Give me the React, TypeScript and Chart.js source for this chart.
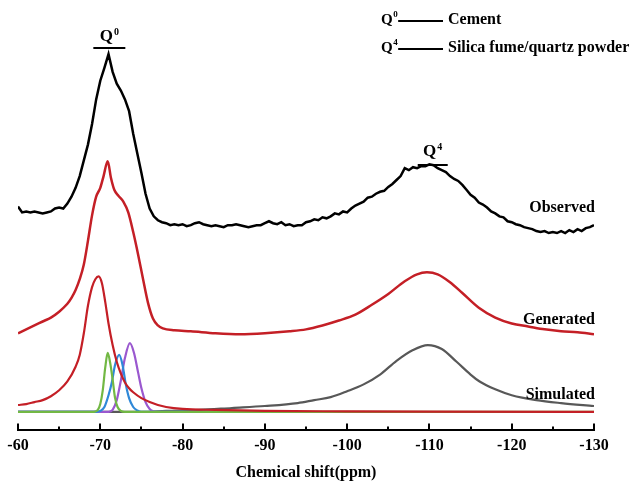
import React, { useEffect, useRef } from "react";
import { Chart, registerables } from "chart.js";

Chart.register(...registerables);

// ---------- data (intensity units = arbitrary, stacked offsets already included) ----------
const obsShift = [
  -60, -60.5, -61, -61.5, -62, -62.5, -63, -63.5, -64, -64.5, -65, -65.5, -66, -66.5, -67, -67.5,
  -68, -68.5, -69, -69.5, -70, -70.5, -71, -71.5, -72, -72.5, -73, -73.5, -74, -74.5, -75, -75.5,
  -76, -76.5, -77, -77.5, -78, -78.5, -79, -79.5, -80, -80.5, -81, -81.5, -82, -82.5, -83, -83.5,
  -84, -84.5, -85, -85.5, -86, -86.5, -87, -87.5, -88, -88.5, -89, -89.5, -90, -90.5, -91, -91.5,
  -92, -92.5, -93, -93.5, -94, -94.5, -95, -95.5, -96, -96.5, -97, -97.5, -98, -98.5, -99, -99.5,
  -100, -100.5, -101, -101.5, -102, -102.5, -103, -103.5, -104, -104.5, -105, -105.5, -106, -106.5,
  -107, -107.5, -108, -108.5, -109, -109.5, -110, -110.5, -111, -111.5, -112, -112.5, -113, -113.5,
  -114, -114.5, -115, -115.5, -116, -116.5, -117, -117.5, -118, -118.5, -119, -119.5, -120, -120.5,
  -121, -121.5, -122, -122.5, -123, -123.5, -124, -124.5, -125, -125.5, -126, -126.5, -127, -127.5,
  -128, -128.5, -129, -129.5, -130,
];
const obsIntensity = [
  209, 203, 204, 203, 204, 203, 202, 203, 204, 207, 208, 207, 212, 219, 228, 240,
  256, 272, 293, 318, 337, 350, 364, 346, 334, 327, 318, 306, 283, 263, 243, 222,
  207, 199, 195, 193, 192, 190, 191, 190, 191, 189, 190, 192, 193, 191, 190, 189,
  190, 189, 188, 190, 190, 191, 190, 189, 188, 189, 190, 190, 192, 194, 192, 191,
  193, 190, 191, 189, 190, 190, 193, 194, 196, 195, 198, 197, 199, 202, 201, 204,
  203, 207, 210, 212, 214, 218, 219, 222, 224, 225, 229, 232, 236, 240,
  248, 246, 249, 248, 250, 250, 252, 251, 248, 246, 244, 240, 237, 235,
  231, 226, 221, 218, 213, 211, 208, 204, 202, 199, 198, 194, 193, 191,
  190, 188, 187, 186, 184, 183, 184, 182, 183, 182, 184, 182, 185, 183,
  186, 184, 187, 188, 190,
];

const genShift = [
  -60, -61, -62, -63, -64, -65, -66, -66.5, -67, -67.5, -68, -68.5, -69, -69.5, -70, -70.4, -70.9,
  -71.3, -71.7, -72.2, -72.8, -73.4, -74, -74.6, -75.2, -75.8, -76.4, -77, -77.6, -79, -81, -84,
  -87, -90, -93, -95, -97, -99, -101, -103, -105, -107, -108.5, -109.7, -111, -112.5, -114, -116,
  -118, -120, -122, -124, -126, -128, -130,
];
const genIntensity = [
  80, 84, 88, 92, 96, 102, 110, 116, 124, 135, 150, 174, 200, 219, 228, 240, 255,
  238, 226, 220, 214, 203, 183, 160, 135, 111, 95, 88, 85, 83, 82, 80,
  79, 80, 82, 84, 88, 93, 99, 109, 120, 133, 140, 142, 140, 132, 121, 106,
  96, 90, 87, 84, 82, 81, 79,
];

const simRedShift = [
  -60, -61, -62, -63, -64, -65, -66, -67, -67.5, -68, -68.5, -69, -69.4, -69.8, -70.2, -70.6,
  -71, -71.5, -72, -72.5, -73, -73.5, -74, -75, -76, -77, -78, -80, -84, -90, -100, -110, -130,
];
const simRedIntensity = [
  7, 8, 10, 12, 16, 22, 31, 46, 58, 80, 108, 127, 135, 138, 131, 112,
  90, 68, 51, 39, 30, 24, 20, 14, 10, 7, 5, 3, 2, 1, 0.6, 0.3, 0,
];

const simGreenShift = [
  -60, -69, -69.4, -69.7, -70, -70.3, -70.6, -70.9, -71.2, -71.5, -71.8, -72.1, -72.5, -73, -130,
];
const simGreenIntensity = [0, 0, 0.5, 2, 8, 22, 45, 60, 50, 33, 14, 5, 1, 0, 0];

const simBlueShift = [
  -60, -69.5, -70, -70.5, -71, -71.4, -71.8, -72.3, -72.7, -73.1, -73.5, -74, -74.5, -75, -90,
];
const simBlueIntensity = [0, 0, 1, 5, 17, 30, 48, 58, 48, 28, 14, 5, 1.5, 0, 0];

const simPurpleShift = [
  -60, -71, -71.5, -72, -72.5, -73, -73.6, -74.1, -74.6, -75, -75.5, -76, -76.5, -77, -90,
];
const simPurpleIntensity = [0, 0, 2, 12, 32, 55, 70, 60, 40, 24, 10, 3, 0.5, 0, 0];

const simGrayShift = [
  -60, -75, -78, -82, -86, -90, -94, -96, -98, -100, -102, -104, -106, -108, -109.8, -111.5,
  -113.3, -115, -116.1, -118, -120, -123, -126, -130,
];
const simGrayIntensity = [
  0, 0, 1, 2, 4, 6, 9, 12, 15, 21, 28, 38, 52, 63, 68, 64,
  51, 38, 31, 23, 17, 12, 9, 6,
];

const majorTicks = [-60, -70, -80, -90, -100, -110, -120, -130];
const minorTicks = [-65, -75, -85, -95, -105, -115, -125];
const tickLabels = ["-60", "-70", "-80", "-90", "-100", "-110", "-120", "-130"];

const curveLabels = ["Observed", "Generated", "Simulated"];
const legendSup = ["0", "4"];
const legendText = ["Cement", "Silica fume/quartz powder"];

const FONT = '"Liberation Serif", "Times New Roman", serif';

const RED = "#c41f26";
const GREEN = "#72b844";
const BLUE = "#2f88d8";
const PURPLE = "#9a58cf";
const GRAY = "#585858";

function pts(xs: number[], ys: number[]) {
  return xs.map((x, i) => ({ x, y: ys[i] }));
}

const overlay = {
  id: "overlay",
  afterDraw(chart: any) {
    const ctx = chart.ctx as CanvasRenderingContext2D;
    const xs = chart.scales.x;
    const bottom = chart.chartArea.bottom;
    ctx.save();
    ctx.strokeStyle = "#000";
    ctx.lineWidth = 2;
    majorTicks.forEach((v) => {
      const px = Math.round(xs.getPixelForValue(v));
      ctx.beginPath();
      ctx.moveTo(px, bottom);
      ctx.lineTo(px, bottom - 6);
      ctx.stroke();
    });
    minorTicks.forEach((v) => {
      const px = Math.round(xs.getPixelForValue(v));
      ctx.beginPath();
      ctx.moveTo(px, bottom);
      ctx.lineTo(px, bottom - 3);
      ctx.stroke();
    });

    // curve labels
    ctx.fillStyle = "#000";
    ctx.font = `bold 16px ${FONT}`;
    ctx.textAlign = "right";
    ctx.textBaseline = "middle";
    const labelY = [208, 320, 395];
    curveLabels.forEach((t, i) => ctx.fillText(t, 595, labelY[i]));

    // Q markers with overline
    const drawQ = (cx: number, cy: number, sup: string, barY: number, barHalf: number) => {
      ctx.font = `bold 17px ${FONT}`;
      const qw = ctx.measureText("Q").width;
      ctx.font = `bold 10px ${FONT}`;
      const sw = ctx.measureText(sup).width;
      const x0 = cx - (qw + sw + 1) / 2;
      ctx.textAlign = "left";
      ctx.textBaseline = "middle";
      ctx.font = `bold 17px ${FONT}`;
      ctx.fillText("Q", x0, cy);
      ctx.font = `bold 10px ${FONT}`;
      ctx.fillText(sup, x0 + qw + 1, cy - 5);
      ctx.lineWidth = 2;
      ctx.beginPath();
      ctx.moveTo(cx - barHalf, barY);
      ctx.lineTo(cx + barHalf, barY);
      ctx.stroke();
    };
    drawQ(xs.getPixelForValue(-71.1), 37, legendSup[0], 48, 16);
    drawQ(xs.getPixelForValue(-110.4), 152, legendSup[1], 165, 15);

    // legend in top right
    const rowY = [20, 48];
    legendText.forEach((t, i) => {
      const y = rowY[i];
      ctx.textAlign = "left";
      ctx.textBaseline = "middle";
      ctx.font = `bold 15px ${FONT}`;
      ctx.fillText("Q", 381, y);
      const qw = ctx.measureText("Q").width;
      ctx.font = `bold 9px ${FONT}`;
      ctx.fillText(legendSup[i], 381 + qw + 0.5, y - 5);
      const sw = ctx.measureText(legendSup[i]).width;
      ctx.lineWidth = 2;
      ctx.beginPath();
      ctx.moveTo(381 + qw + sw + 1, y + 1);
      ctx.lineTo(443, y + 1);
      ctx.stroke();
      ctx.font = `bold 16px ${FONT}`;
      ctx.fillText(t, 448, y);
    });
    ctx.restore();
  },
};

export default function App() {
  const ref = useRef<HTMLCanvasElement | null>(null);
  useEffect(() => {
    if (!ref.current) return;
    const smooth = { cubicInterpolationMode: "monotone" as const, pointRadius: 0, fill: false };
    const chart = new Chart(ref.current, {
      type: "line",
      data: {
        datasets: [
          { label: "Observed", data: pts(obsShift, obsIntensity), borderColor: "#000", borderWidth: 2.5, pointRadius: 0, tension: 0, fill: false },
          { label: "Generated", data: pts(genShift, genIntensity), borderColor: RED, borderWidth: 2.5, ...smooth },
          { label: "SimRed", data: pts(simRedShift, simRedIntensity), borderColor: RED, borderWidth: 2.2, ...smooth },
          { label: "SimGreen", data: pts(simGreenShift, simGreenIntensity), borderColor: GREEN, borderWidth: 2.2, ...smooth },
          { label: "SimBlue", data: pts(simBlueShift, simBlueIntensity), borderColor: BLUE, borderWidth: 2.2, ...smooth },
          { label: "SimPurple", data: pts(simPurpleShift, simPurpleIntensity), borderColor: PURPLE, borderWidth: 2.2, ...smooth },
          { label: "SimGray", data: pts(simGrayShift, simGrayIntensity), borderColor: GRAY, borderWidth: 2.2, ...smooth },
        ],
      },
      options: {
        animation: false,
        responsive: false,
        devicePixelRatio: 1,
        layout: { padding: { left: 18, right: 42, top: 8, bottom: 0 } },
        plugins: { legend: { display: false }, tooltip: { enabled: false } },
        scales: {
          x: {
            type: "linear",
            reverse: true,
            min: -130,
            max: -60,
            grid: { display: false, drawTicks: false },
            border: { display: true, color: "#000", width: 2 },
            ticks: {
              stepSize: 10,
              padding: 7,
              color: "#000",
              font: { family: FONT, size: 16, weight: "bold" },
              callback: (v: any) => {
                const i = majorTicks.indexOf(Number(v));
                return i >= 0 ? tickLabels[i] : "";
              },
              maxRotation: 0,
              autoSkip: false,
            },
            title: {
              display: true,
              text: "Chemical shift(ppm)",
              color: "#000",
              font: { family: FONT, size: 16, weight: "bold" },
              padding: { top: 0, bottom: 3 },
            },
          },
          y: { display: false, min: -18, max: 411 },
        },
      },
      plugins: [overlay],
    });
    return () => chart.destroy();
  }, []);
  return (
    <div style={{ position: "fixed", left: 0, top: 0, width: 636, height: 485, background: "#fff" }}>
      <canvas ref={ref} width={636} height={485} style={{ width: 636, height: 485 }} />
    </div>
  );
}
